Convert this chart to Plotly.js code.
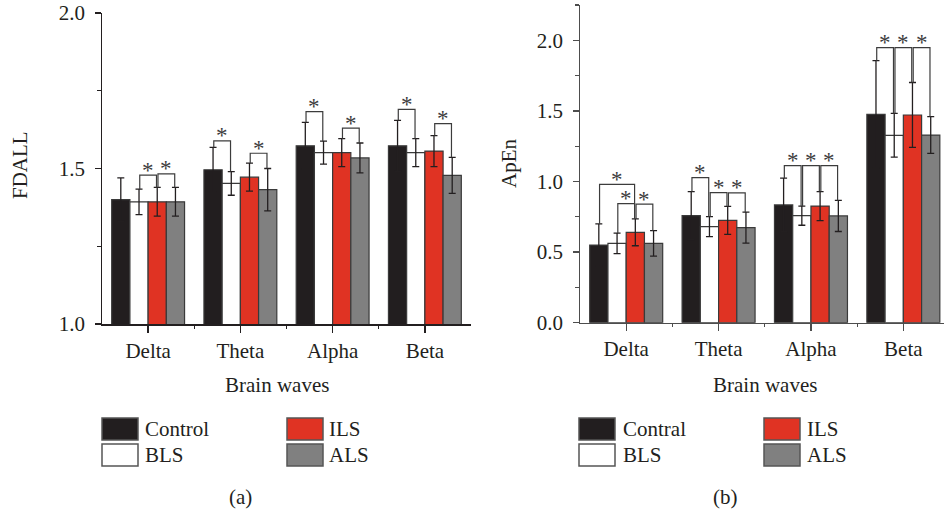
<!DOCTYPE html>
<html>
<head>
<meta charset="utf-8">
<script src="https://cdn.plot.ly/plotly-3.0.1.min.js"></script>
<style>html,body{margin:0;padding:0;background:#fff;}#chart{width:944px;height:511px;}</style>
</head>
<body>
<div id="chart"></div>
<script>
// ---------- data ----------
const categories = ['Delta', 'Theta', 'Alpha', 'Beta'];
const seriesA = ['Control', 'BLS', 'ILS', 'ALS'];
const seriesB = ['Contral', 'BLS', 'ILS', 'ALS'];

// (a) FDALL
const fdControl = [1.400, 1.496, 1.573, 1.573];
const fdControlErr = [0.070, 0.072, 0.075, 0.082];
const fdBLS = [1.393, 1.452, 1.551, 1.551];
const fdBLSErr = [0.041, 0.038, 0.037, 0.045];
const fdILS = [1.393, 1.472, 1.551, 1.556];
const fdILSErr = [0.046, 0.045, 0.045, 0.050];
const fdALS = [1.393, 1.432, 1.534, 1.478];
const fdALSErr = [0.046, 0.068, 0.048, 0.058];

// (b) ApEn
const apControl = [0.550, 0.758, 0.834, 1.476];
const apControlErr = [0.150, 0.170, 0.190, 0.380];
const apBLS = [0.562, 0.680, 0.758, 1.327];
const apBLSErr = [0.073, 0.071, 0.068, 0.155];
const apILS = [0.640, 0.725, 0.826, 1.471];
const apILSErr = [0.095, 0.099, 0.103, 0.230];
const apALS = [0.562, 0.673, 0.756, 1.329];
const apALSErr = [0.090, 0.110, 0.110, 0.130];

// significance brackets: [category index, from series, to series, bracket height]
const sigA = [[0, 1, 2, 1.479], [0, 2, 3, 1.483],
              [1, 0, 1, 1.589], [1, 2, 3, 1.549],
              [2, 0, 1, 1.683], [2, 2, 3, 1.630],
              [3, 0, 1, 1.690], [3, 2, 3, 1.644]];
const sigB = [[0, 0, 2, 0.980], [0, 1, 2, 0.843], [0, 2, 3, 0.840],
              [1, 0, 1, 1.027], [1, 1, 2, 0.921], [1, 2, 3, 0.920],
              [2, 0, 1, 1.112], [2, 1, 2, 1.112], [2, 2, 3, 1.112],
              [3, 0, 1, 1.948], [3, 1, 2, 1.948], [3, 2, 3, 1.948]];

// ---------- styling ----------
const colors = ['#221e1f', '#ffffff', '#e03323', '#808080'];
const FONT = 'Liberation Serif, Times New Roman, serif';
const INK = '#231f20';
const W = 944, H = 511;
const bargap = 0.21;
const catIdx = categories.map((c, i) => i);

const valsA = [fdControl, fdBLS, fdILS, fdALS];
const errsA = [fdControlErr, fdBLSErr, fdILSErr, fdALSErr];
const valsB = [apControl, apBLS, apILS, apALS];
const errsB = [apControlErr, apBLSErr, apILSErr, apALSErr];

const traces = [];
function addBars(vals, errs, names, xa, ya) {
  vals.forEach((v, i) => {
    traces.push({
      type: 'bar', x: catIdx, y: v, name: names[i], xaxis: xa, yaxis: ya,
      showlegend: false,
      marker: {color: colors[i], line: {color: '#3a3a3a', width: 1.2}},
      error_y: {type: 'data', array: errs[i], visible: true, color: INK, thickness: 1.3, width: 3.5}
    });
  });
}
addBars(valsA, errsA, seriesA, 'x', 'y');
addBars(valsB, errsB, seriesB, 'x2', 'y2');

const barW = (1 - bargap) / 4;
const off = i => -(1 - bargap) / 2 + (i + 0.5) * barW;
const shapes = [];
const annotations = [];
function addSig(list, vals, errs, xref, yref) {
  list.forEach(([c, a, b, top]) => {
    const x1 = c + off(a) + 0.008, x2 = c + off(b) - 0.008;
    const y1 = vals[a][c] + errs[a][c], y2 = vals[b][c] + errs[b][c];
    shapes.push({type: 'path', xref: xref, yref: yref,
      path: `M ${x1},${y1} L ${x1},${top} L ${x2},${top} L ${x2},${y2}`,
      line: {color: '#3c3c3c', width: 1.2}});
    annotations.push({xref: xref, yref: yref, x: (x1 + x2) / 2, y: top, text: '*',
      showarrow: false, yanchor: 'middle', yshift: 5,
      font: {family: FONT, size: 23, color: '#3c3c3c'}});
  });
}
addSig(sigA, valsA, errsA, 'x', 'y');
addSig(sigB, valsB, errsB, 'x2', 'y2');

// legends drawn as boxes + labels
function addLegend(names, boxX, textX, rowTop) {
  names.forEach((n, i) => {
    const col = Math.floor(i / 2), row = i % 2;
    const bx = boxX[col], tx = textX[col];
    const top = rowTop[row];
    shapes.push({type: 'rect', xref: 'paper', yref: 'paper',
      x0: bx / W, x1: (bx + 36) / W, y0: 1 - (top + 22) / H, y1: 1 - top / H,
      fillcolor: colors[i], line: {color: '#555555', width: 1.5}});
    annotations.push({xref: 'paper', yref: 'paper', x: tx / W, y: 1 - (top + 11) / H,
      text: n, showarrow: false, xanchor: 'left', yanchor: 'middle',
      font: {family: FONT, size: 21, color: INK}});
  });
}
addLegend(seriesA, [102, 287], [143, 327], [418, 444]);
addLegend(seriesB, [579, 764], [621, 805], [418, 444]);

// axis titles & panel labels
function paperText(text, px, py, size, angle) {
  annotations.push({xref: 'paper', yref: 'paper', x: px / W, y: 1 - py / H, text: text,
    showarrow: false, xanchor: 'center', yanchor: 'middle', textangle: angle || 0,
    font: {family: FONT, size: size, color: INK}});
}
paperText('Brain waves', 277, 385, 21);
paperText('Brain waves', 765, 385, 21);
paperText('FDALL', 20, 165, 21, -90);
paperText('ApEn', 509, 163, 21, -90);
paperText('(a)', 240, 497, 21);
paperText('(b)', 725, 497, 21);

function xAxis(domain, range, color) {
  return {domain: domain, range: range, showgrid: false, zeroline: false,
    showline: true, linecolor: color, linewidth: 1.5,
    tickmode: 'array', tickvals: catIdx, ticktext: categories,
    ticks: 'outside', ticklen: 7, tickwidth: 1.3, tickcolor: color,
    minor: {tickmode: 'array', tickvals: [0.5, 1.5, 2.5], ticks: 'outside', ticklen: 3, tickwidth: 1.2, tickcolor: color},
    tickfont: {family: FONT, size: 21, color: INK}, fixedrange: true};
}
function yAxis(domain, range, anchor, color) {
  return {domain: domain, range: range, anchor: anchor, showgrid: false, zeroline: false,
    showline: true, linecolor: color, linewidth: 1.5,
    dtick: 0.5, tick0: 0, tickformat: '.1f', ticksuffix: '\u00a0',
    ticks: 'outside', ticklen: 6, tickwidth: 1.3, tickcolor: color,
    minor: {dtick: 0.25, ticks: 'outside', ticklen: 4, tickwidth: 1.2, tickcolor: color, showgrid: false},
    tickfont: {family: FONT, size: 21, color: INK}, fixedrange: true};
}

const layout = {
  width: W, height: H,
  margin: {l: 0, r: 0, t: 0, b: 0, autoexpand: false},
  paper_bgcolor: '#ffffff', plot_bgcolor: 'rgba(0,0,0,0)',
  barmode: 'group', bargap: bargap, bargroupgap: 0,
  showlegend: false,
  xaxis: Object.assign(xAxis([102 / W, 471 / W], [-0.5, 3.5], INK), {anchor: 'y'}),
  yaxis: yAxis([(H - 324) / H, (H - 13) / H], [1, 2], 'x', INK),
  xaxis2: Object.assign(xAxis([580 / W, 1], [-0.5, 3.44], '#4d4d4d'), {anchor: 'y2'}),
  yaxis2: yAxis([(H - 322.7) / H, (H - 5) / H], [0, 2.25], 'x2', '#4d4d4d'),
  shapes: shapes,
  annotations: annotations
};

Plotly.newPlot('chart', traces, layout, {staticPlot: true, displayModeBar: false});
</script>
</body>
</html>
